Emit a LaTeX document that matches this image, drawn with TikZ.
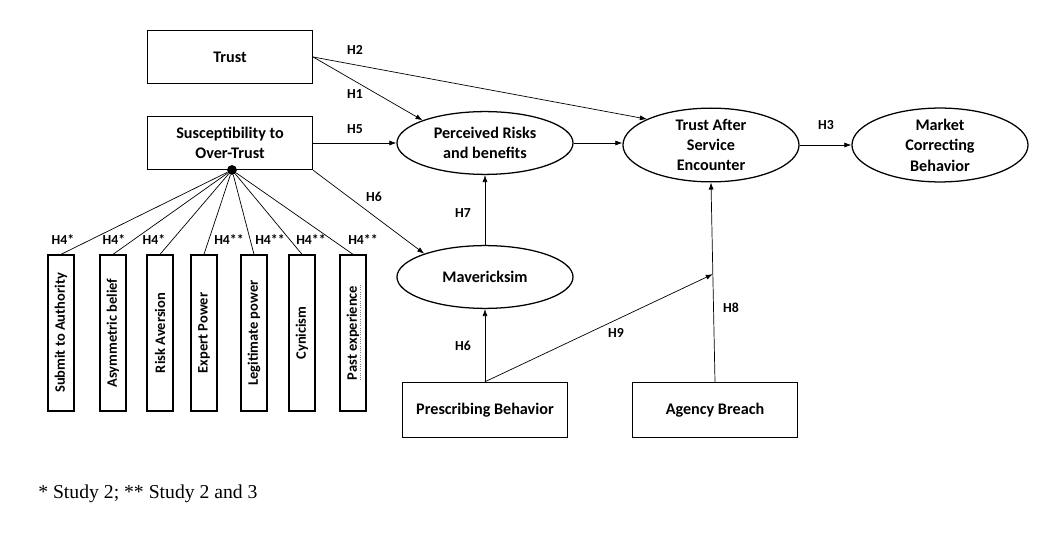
\documentclass[tikz,border=0pt]{standalone}
\usepackage{fontspec}
\setmainfont{Carlito}
\newfontfamily\notefont{Liberation Serif}
\usetikzlibrary{arrows,arrows.meta,shapes.geometric,positioning,calc}

\begin{document}
\begin{tikzpicture}[x=0.025cm,y=-0.025cm,>={Latex[length=5pt,width=3.6pt]}]
    % Styles
    \tikzstyle{construct}=[draw,line width=0.9pt,rectangle,inner sep=0pt,
      minimum width=4.125cm,minimum height=1.33cm,align=center,
      font=\fontsize{11.5}{14}\selectfont\bfseries]
    \tikzstyle{latent}=[draw,line width=0.9pt,ellipse,inner sep=0pt,
      minimum width=4.4cm,minimum height=1.57cm,align=center,
      font=\fontsize{11.5}{14.5}\selectfont\bfseries]
    \tikzstyle{item}=[draw,line width=0.9pt,rectangle,rotate=90,inner sep=0pt,
      minimum width=3.9cm,minimum height=0.65cm,
      font=\fontsize{10.3}{12}\selectfont\bfseries]
    \tikzstyle{hyp}=[inner sep=1pt,font=\fontsize{9.8}{11}\selectfont\bfseries]
    \tikzstyle{path line}=[->,line width=0.5pt]

    \useasboundingbox (0,0) rectangle (1048,550);

    % Constructs
    \node[construct] (trust) at (230,57) {Trust};
    \node[construct] (sus) at (230,143) {Susceptibility to\\Over-Trust};
    \node[latent] (risk) at (485,143) {Perceived Risks\\and benefits};
    \node[latent] (tase) at (711,145) {Trust After\\Service\\Encounter};
    \node[latent] (market) at (940,145) {Market\\Correcting\\Behavior};
    \node[latent] (mav) at (485,277) {Mavericksim};
    \node[construct,minimum height=1.38cm] (presc) at (485,410) {Prescribing Behavior};
    \node[construct,minimum height=1.38cm] (agency) at (715,410) {Agency Breach};

    \node[circle,fill=black,inner sep=0pt,minimum size=7pt] (hub) at (232,170) {};

    % Dimensions of over-trust
    \foreach \i/\x/\txt/\h/\hx in {1/61/Submit to Authority/H4*/63,
        2/113/Asymmetric belief/H4*/114,
        3/160/Risk Aversion/H4*/154,
        4/204/Expert Power/H4**/229,
        5/254/Legitimate power/H4**/270,
        6/302/Cynicism/H4**/311,
        7/353/Past experience/H4**/363}
    {
      \node[item] (s\i) at (\x,333) {\txt};
      \draw[line width=0.5pt] (hub) -- (s\i.east);
      \node[hyp] (h4\i) at (\hx,240) {\h};
    }
    % spelling mark under "Past experience"
    \draw[gray,densely dotted,line width=0.6pt]
      ($(s7.center)+(7,-48)$) -- ($(s7.center)+(7,47)$);

    % Paths
    \coordinate (join) at ($(agency.north)!0.54!(tase.south)$);

    \draw[path line] (trust.east) -- (risk.160);
    \draw[path line] (trust.east) -- (tase.158);
    \draw[path line] (sus.east) -- (risk.west);
    \draw[path line] (sus.south east) -- (mav.159);
    \draw[path line] (risk.east) -- (risk.east -| tase.west);
    \draw[path line] (tase.east) -- (market.west);
    \draw[path line] (mav.north) -- (risk.south);
    \draw[path line] (presc.north) -- (mav.south);
    \draw[path line] (presc.north) -- (join);
    \draw[path line] (agency.north) -- (tase.south);

    % Hypotheses
    \node[hyp] (h2) at (355,50) {H2};
    \node[hyp] (h1) at (355,94) {H1};
    \node[hyp] (h5) at (355,129) {H5};
    \node[hyp] (h6a) at (374,197) {H6};
    \node[hyp] (h7) at (463,213) {H7};
    \node[hyp] (h3) at (826,125) {H3};
    \node[hyp] (h6b) at (463,346) {H6};
    \node[hyp] (h9) at (616,333) {H9};
    \node[hyp] (h8) at (731,308) {H8};

    % Note
    \node[anchor=west,inner sep=0pt,font=\notefont\fontsize{14}{16}\selectfont]
      (note) at (38,494) {* Study 2; ** Study 2 and 3};
\end{tikzpicture}
\end{document}
